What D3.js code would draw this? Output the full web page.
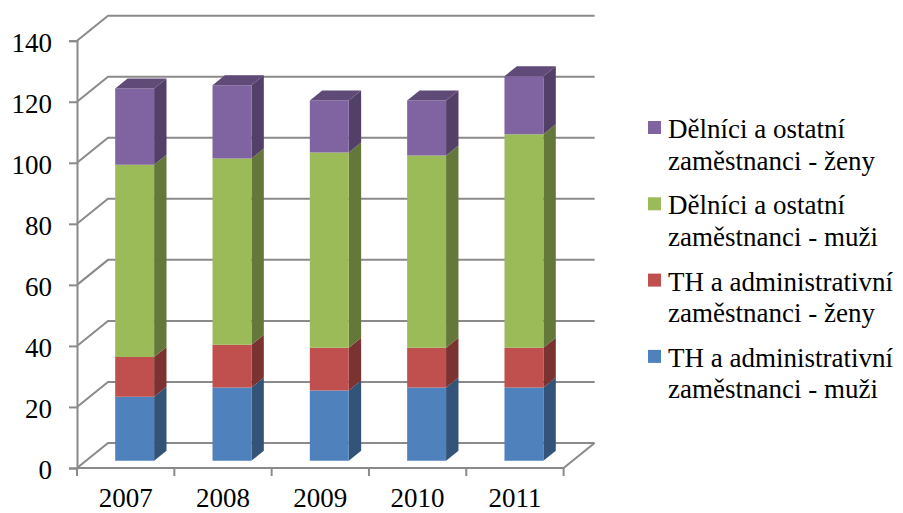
<!DOCTYPE html>
<html>
<head>
<meta charset="utf-8">
<script src="https://cdn.jsdelivr.net/npm/d3@7"></script>
<style>
  body { margin: 0; background: #fff; }
  svg text { font-family: "Liberation Serif", "Times New Roman", "DejaVu Serif", serif; }
</style>
</head>
<body>
<svg class="svg" width="903" height="513"></svg>
<script>
// chart data
const years = ['2007', '2008', '2009', '2010', '2011']
const thMuzi = [21, 24, 23, 24, 24]
const thZeny = [13, 14, 14, 13, 13]
const delniciMuzi = [63, 61, 64, 63, 70]
const delniciZeny = [25, 24, 17, 18, 19]
const yTicks = [0, 20, 40, 60, 80, 100, 120, 140]
const seriesNames = [
  ['TH a administrativní', 'zaměstnanci - muži'],
  ['TH a administrativní', 'zaměstnanci - ženy'],
  ['Dělníci a ostatní', 'zaměstnanci - muži'],
  ['Dělníci a ostatní', 'zaměstnanci - ženy']
]
const colors = ['#4F81BD', '#C0504D', '#9BBB59', '#8064A2']

const FONT = '"Liberation Serif", "Times New Roman", serif'
const svg = d3.select('.svg')

// 3d box geometry
const depthX = 31
const depthY = -25
const barFront = 0.29
const barDepth = 0.4

const x = d3.scaleBand().domain(years).range([77, 563.6]).paddingInner(0.6).paddingOuter(0.3)
const xCat = d3.scaleBand().domain(years).range([77, 563.6]).padding(0)
const y = d3.scaleLinear().domain([0, 140]).range([468, 40.7])

const proj = (px, v, d) => [px + d * depthX, y(v) + d * depthY]

const rows = years.map((yr, i) => ({
  year: yr, v0: thMuzi[i], v1: thZeny[i], v2: delniciMuzi[i], v3: delniciZeny[i]
}))
const stacked = d3.stack().keys(['v0', 'v1', 'v2', 'v3'])(rows)

const gridColor = '#8a8a8a'
const grid = svg.append('g').attr('stroke', gridColor).attr('stroke-width', 2).attr('fill', 'none')

// back wall gridlines + side wall diagonals
yTicks.forEach(t => {
  const a = proj(77, t, 0)
  const b = proj(77, t, 1)
  const c = proj(563.6, t, 1)
  grid.append('path').attr('d', d3.line()([a, b, c]))
})

// floor
const f1 = proj(77, 0, 0), f2 = proj(563.6, 0, 0), f3 = proj(563.6, 0, 1)
grid.append('path').attr('d', d3.line()([f1, f2, f3]))

// front value axis
const yAxis = svg.append('g')
  .attr('transform', 'translate(77,0)')
  .call(d3.axisLeft(y).tickValues(yTicks).tickSize(8).tickPadding(17).tickFormat(d3.format('d')))
yAxis.attr('font-family', FONT).attr('font-size', 27)
yAxis.select('.domain').attr('stroke', gridColor).attr('stroke-width', 2)
yAxis.selectAll('.tick line').attr('stroke', gridColor).attr('stroke-width', 2)
yAxis.selectAll('.tick text').attr('fill', '#000').attr('dy', '0.4em')

// category ticks
const catEdges = years.map(d => xCat(d)).concat([xCat(years[years.length - 1]) + xCat.bandwidth()])
svg.append('g').selectAll('line').data(catEdges).enter().append('line')
  .attr('x1', d => d).attr('x2', d => d)
  .attr('y1', y(0)).attr('y2', y(0) + 8)
  .attr('stroke', gridColor).attr('stroke-width', 2)

svg.append('g').attr('font-family', FONT).selectAll('text').data(years).enter().append('text')
  .attr('x', d => xCat(d) + xCat.bandwidth() / 2)
  .attr('y', 507)
  .attr('text-anchor', 'middle')
  .attr('font-size', 27)
  .text(d => d)

// bars
const bars = svg.append('g')
years.forEach((yr, i) => {
  const x0 = x(yr), x1 = x(yr) + x.bandwidth()
  stacked.forEach((layer, s) => {
    const lo = layer[i][0], hi = layer[i][1]
    const base = d3.color(colors[s])
    const front = [proj(x0, lo, barFront), proj(x1, lo, barFront), proj(x1, hi, barFront), proj(x0, hi, barFront)]
    const side = [proj(x1, lo, barFront), proj(x1, lo, barFront + barDepth), proj(x1, hi, barFront + barDepth), proj(x1, hi, barFront)]
    bars.append('path').attr('d', d3.line()(side) + 'Z').attr('fill', base.darker(1.25))
    bars.append('path').attr('d', d3.line()(front) + 'Z').attr('fill', base)
    if (s === stacked.length - 1) {
      const top = [proj(x0, hi, barFront), proj(x1, hi, barFront), proj(x1, hi, barFront + barDepth), proj(x0, hi, barFront + barDepth)]
      bars.append('path').attr('d', d3.line()(top) + 'Z').attr('fill', base.darker(0.85))
    }
  })
})

// legend (reverse of the stack order)
const legend = svg.append('g').attr('font-family', FONT).attr('font-size', 27)
const legendOrder = [3, 2, 1, 0]
legendOrder.forEach((s, k) => {
  const by = 138 + k * 76.3
  legend.append('rect').attr('x', 648).attr('y', by - 17).attr('width', 13).attr('height', 13).attr('fill', colors[s])
  seriesNames[s].forEach((line, j) => {
    legend.append('text').attr('x', 668).attr('y', by + j * 31.5).text(line)
  })
})
</script>
</body>
</html>
